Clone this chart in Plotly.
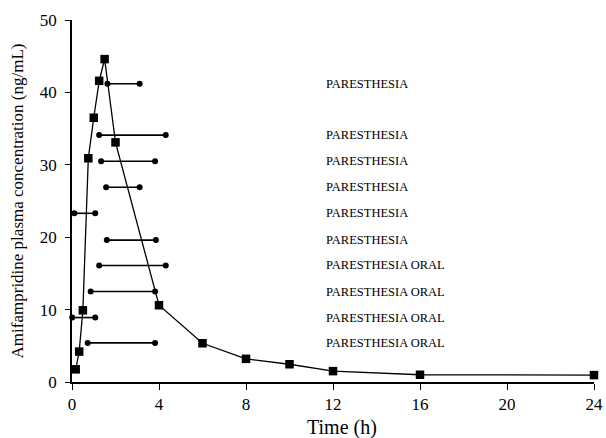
import plotly.graph_objects as go

# Pharmacokinetic profile
time_h = [0.17, 0.33, 0.5, 0.75, 1.0, 1.25, 1.5, 2.0, 4.0, 6.0, 8.0, 10.0, 12.0, 16.0, 24.0]
conc = [1.75, 4.2, 9.9, 30.9, 36.5, 41.6, 44.6, 33.1, 10.6, 5.35, 3.2, 2.45, 1.5, 1.0, 0.95]

# Paresthesia episodes (onset / end time, level on y axis, label)
par_start = [1.63, 1.25, 1.34, 1.57, 0.11, 1.60, 1.25, 0.86, 0.01, 0.72]
par_end = [3.11, 4.31, 3.82, 3.11, 1.07, 3.86, 4.31, 3.82, 1.07, 3.82]
par_level = [41.2, 34.1, 30.5, 26.9, 23.3, 19.6, 16.1, 12.5, 8.9, 5.4]
par_label = ["PARESTHESIA", "PARESTHESIA", "PARESTHESIA", "PARESTHESIA", "PARESTHESIA",
             "PARESTHESIA", "PARESTHESIA ORAL", "PARESTHESIA ORAL", "PARESTHESIA ORAL",
             "PARESTHESIA ORAL"]
label_x = 11.6

x_ticks = [0, 4, 8, 12, 16, 20, 24]
y_ticks = [0, 10, 20, 30, 40, 50]
x_title = "Time (h)"
y_title = "Amifampridine plasma concentration (ng/mL)"

fig = go.Figure()

for s, e, lv in zip(par_start, par_end, par_level):
    fig.add_trace(go.Scatter(
        x=[s, e], y=[lv, lv], mode="lines+markers",
        line=dict(color="black", width=1.6),
        marker=dict(symbol="circle", size=6, color="black"),
        showlegend=False, hoverinfo="skip", cliponaxis=False))

fig.add_trace(go.Scatter(
    x=time_h, y=conc, mode="lines+markers",
    line=dict(color="black", width=1.3),
    marker=dict(symbol="square", size=8.5, color="black"),
    showlegend=False, cliponaxis=False))

for lv, lab in zip(par_level, par_label):
    fig.add_annotation(x=label_x, y=lv, xref="x", yref="y", text=lab,
                       showarrow=False, xanchor="left", yanchor="middle",
                       font=dict(family="Liberation Serif", size=12.5, color="black"))

fig.add_annotation(x=0.518, y=0, xref="paper", yref="paper", text=x_title,
                   showarrow=False, xanchor="center", yanchor="middle", yshift=-45,
                   font=dict(family="Liberation Serif", size=20, color="black"))

axis_font = dict(family="Liberation Serif", size=17, color="black")
fig.update_layout(
    width=606, height=438,
    margin=dict(l=72, r=12, t=20, b=56),
    paper_bgcolor="white", plot_bgcolor="white",
    font=axis_font,
    xaxis=dict(range=[0, 24], tickvals=x_ticks, ticks="outside", ticklen=6,
               tickwidth=1.3, tickcolor="black", showline=True, linecolor="black",
               linewidth=1.5, showgrid=False, zeroline=False, automargin=False,
               tickfont=axis_font),
    yaxis=dict(range=[0, 50], tickvals=y_ticks, ticks="outside", ticklen=5,
               tickwidth=1.3, tickcolor="black", showline=True, linecolor="black",
               linewidth=1.5, showgrid=False, zeroline=False, automargin=False,
               ticklabelstandoff=5,
               title=dict(text=y_title,
                          font=dict(family="Liberation Serif", size=17, color="black"), standoff=12),
               tickfont=axis_font),
)

fig.write_html("out.html", config={"displayModeBar": False},
               post_script="document.body.style.margin='0';document.body.style.overflow='hidden';")
